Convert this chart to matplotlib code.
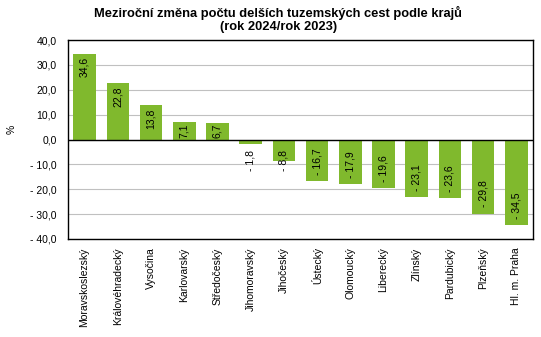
import matplotlib
matplotlib.use("Agg")
import matplotlib.pyplot as plt
import numpy as np

plt.rcParams['font.family'] = ['Liberation Sans', 'DejaVu Sans']

kraje = ['Moravskoslezský', 'Královéhradecký', 'Vysočina', 'Karlovarský',
         'Středočeský', 'Jihomoravský', 'Jihočeský', 'Ústecký', 'Olomoucký',
         'Liberecký', 'Zlínský', 'Pardubický', 'Plzeňský', 'Hl. m. Praha']
zmena = [34.6, 22.8, 13.8, 7.1, 6.7, -1.8, -8.8, -16.7, -17.9, -19.6,
         -23.1, -23.6, -29.8, -34.5]
y_ticks = [40, 30, 20, 10, 0, -10, -20, -30, -40]


def cz(v):
    s = f"{abs(v):.1f}".replace('.', ',')
    return ("- " + s) if v < 0 else s


fig = plt.figure(figsize=(5.41, 3.37), dpi=100, facecolor='white')
ax = fig.add_axes([0.1257, 0.291, 0.8593, 0.590])

x = np.arange(len(kraje))
ax.bar(x, zmena, width=0.68, color='#80b92d', zorder=3)

# popisky hodnot
for xi, v in zip(x, zmena):
    if v >= 0:
        if v - 1.3 > 10:
            ax.text(xi, v - 1.3, cz(v), rotation=90, ha='center', va='top',
                    fontsize=7.5, zorder=4)
        else:
            ax.text(xi, 0.6, cz(v), rotation=90, ha='center', va='bottom',
                    fontsize=7.5, zorder=4)
    else:
        yb = min(v + 2.5, -12.5)
        ax.text(xi, yb, cz(v), rotation=90, ha='center', va='bottom',
                fontsize=7.5, zorder=4)

ax.set_ylim(-40, 40)
ax.set_xlim(-0.5, len(kraje) - 0.5)
ax.set_yticks(y_ticks)
ax.set_yticklabels([cz(t) for t in y_ticks], fontsize=7.5)
ax.set_xticks(x)
ax.set_xticklabels(kraje, rotation=90, fontsize=7.5)
ax.tick_params(axis='both', length=0, pad=6)
ax.tick_params(axis='y', pad=8)

ax.yaxis.grid(True, color='#c0c0c0', linewidth=0.8, zorder=0)
ax.axhline(0, color='black', linewidth=1, zorder=5)
for s in ax.spines.values():
    s.set_color('black')
    s.set_linewidth(1)

fig.text(0.022, 0.615, '%', rotation=90, fontsize=7.5, ha='center', va='center')
fig.text(0.514, 0.982, 'Meziroční změna počtu delších tuzemských cest podle krajů\n(rok 2024/rok 2023)',
         ha='center', va='top', fontsize=9.3, fontweight='bold', linespacing=1.1)

plt.savefig('out.png', dpi=100, facecolor='white')
plt.close()
